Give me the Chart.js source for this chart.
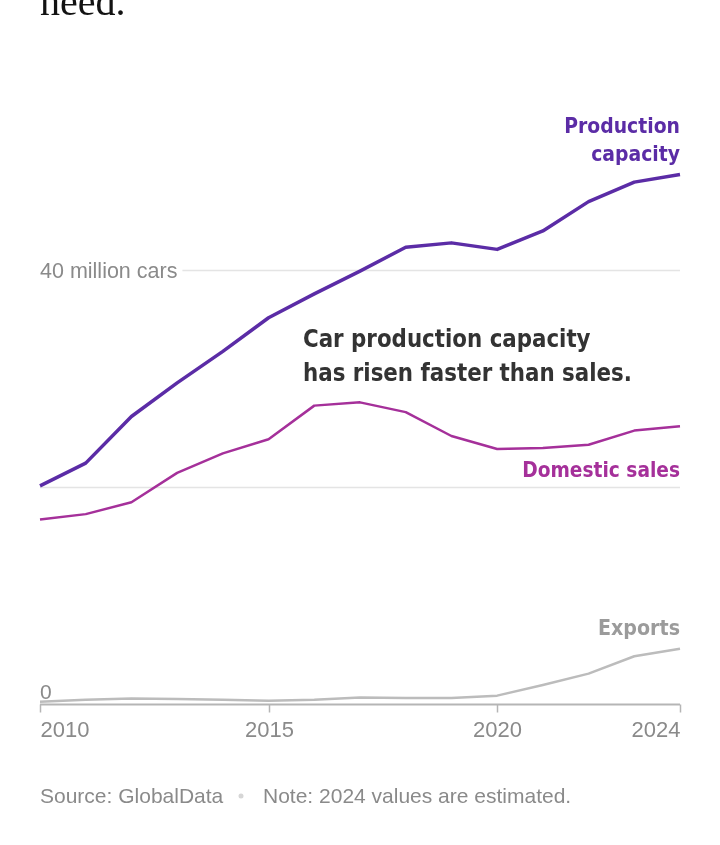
<!DOCTYPE html>
<html>
<head>
<meta charset="utf-8">
<script src="https://cdn.jsdelivr.net/npm/chart.js@4"></script>
<style>
  body { margin: 0; background: #fff; }
  #wrap { position: relative; width: 720px; height: 845px; }
</style>
</head>
<body>
<div id="wrap"><canvas id="carChart"></canvas></div>
<script>
// ---------------------------------------------------------------
// Data (million cars)

const years = [2010, 2011, 2012, 2013, 2014, 2015, 2016, 2017, 2018, 2019, 2020, 2021, 2022, 2023, 2024];
const productionCapacity = [20.1, 22.2, 26.5, 29.6, 32.5, 35.6, 37.8, 39.9, 42.1, 42.5, 41.9, 43.6, 46.3, 48.1, 48.8];
const domesticSales = [17.0, 17.5, 18.6, 21.3, 23.1, 24.4, 27.5, 27.8, 26.9, 24.7, 23.5, 23.6, 23.9, 25.2, 25.6];
const exportsSeries = [0.2, 0.4, 0.5, 0.45, 0.4, 0.3, 0.4, 0.6, 0.55, 0.55, 0.77, 1.75, 2.8, 4.4, 5.1];
const xTickYears = [2010, 2015, 2020, 2024];
const yGridValues = [0, 20, 40];
const yGridLabels = ['0', '', '40 million cars'];

// ---------------------------------------------------------------

const NARROW = '"Liberation Sans Narrow", "DejaVu Sans Condensed", "Arial Narrow", sans-serif';
const REGULAR = '"Liberation Sans", Arial, sans-serif';

function toPoints(values) {
    return years.map((y, i) => ({ x: y, y: values[i] }));
}

// bold condensed text, squeezed a little to match the narrow face
function narrowText(ctx, text, x, y, align, sx) {
    ctx.save();
    ctx.translate(x, y);
    ctx.scale(sx, 1);
    ctx.textAlign = align;
    ctx.fillText(text, 0, 0);
    ctx.restore();
}

// gridlines, baseline and axis labels drawn from the chart scales
const gridPlugin = {
    id: 'gridPlugin',
    beforeDatasetsDraw(chart) {
        const ctx = chart.ctx;
        const xs = chart.scales.x;
        const ys = chart.scales.y;
        const left = chart.chartArea.left;
        const right = chart.chartArea.right;
        ctx.save();
        ctx.font = '21px ' + REGULAR;
        ctx.textBaseline = 'alphabetic';
        ctx.textAlign = 'left';
        for (let i = 0; i < yGridValues.length; i++) {
            const py = Math.round(ys.getPixelForValue(yGridValues[i])) + 0.5;
            const label = yGridLabels[i];
            if (yGridValues[i] === 0) {
                // baseline
                ctx.strokeStyle = '#b5b5b5';
                ctx.lineWidth = 2;
                ctx.beginPath();
                ctx.moveTo(left, py);
                ctx.lineTo(right, py);
                ctx.stroke();
                ctx.fillStyle = '#8a8a8a';
                ctx.fillText(label, left, py - 6);
                // tick marks + year labels
                ctx.font = '22px ' + REGULAR;
                for (const yr of xTickYears) {
                    const px = Math.round(xs.getPixelForValue(yr)) + 0.5;
                    ctx.lineWidth = 1.5;
                    ctx.beginPath();
                    ctx.moveTo(px, py);
                    ctx.lineTo(px, py + 8);
                    ctx.stroke();
                    if (yr === xTickYears[0]) ctx.textAlign = 'left';
                    else if (yr === xTickYears[xTickYears.length - 1]) ctx.textAlign = 'right';
                    else ctx.textAlign = 'center';
                    ctx.fillText(String(yr), px, py + 32);
                }
                ctx.font = '21px ' + REGULAR;
                ctx.textAlign = 'left';
            } else {
                let start = left;
                if (label) {
                    ctx.fillStyle = '#8a8a8a';
                    ctx.font = '21.5px ' + REGULAR;
                    ctx.fillText(label, left, py + 7);
                    start = left + ctx.measureText(label).width + 5;
                }
                ctx.strokeStyle = '#e4e4e4';
                ctx.lineWidth = 1.5;
                ctx.beginPath();
                ctx.moveTo(start, py);
                ctx.lineTo(right, py);
                ctx.stroke();
            }
        }
        ctx.restore();
    },
    afterDraw(chart) {
        const ctx = chart.ctx;
        const right = chart.chartArea.right;
        ctx.save();
        ctx.textBaseline = 'alphabetic';

        // headline tail cut off at the top
        ctx.font = '40px "Liberation Serif", "Times New Roman", serif';
        ctx.fillStyle = '#121212';
        ctx.textAlign = 'left';
        ctx.fillText('need.', 40, 15);

        // series labels
        ctx.font = 'bold 22px ' + NARROW;
        ctx.fillStyle = '#5b2ca6';
        narrowText(ctx, 'Production', right, 133, 'right', 0.95);
        narrowText(ctx, 'capacity', right, 161, 'right', 0.95);
        ctx.fillStyle = '#a5309a';
        narrowText(ctx, 'Domestic sales', right, 477, 'right', 0.94);
        ctx.fillStyle = '#9b9b9b';
        narrowText(ctx, 'Exports', right, 635, 'right', 0.965);

        // annotation
        ctx.font = 'bold 25px ' + NARROW;
        ctx.fillStyle = '#333333';
        narrowText(ctx, 'Car production capacity', 303, 347, 'left', 0.95);
        narrowText(ctx, 'has risen faster than sales.', 303, 381, 'left', 0.95);

        // source line
        ctx.textAlign = 'left';
        ctx.font = '21px ' + REGULAR;
        ctx.fillStyle = '#8a8a8a';
        ctx.fillText('Source: GlobalData', 40, 803);
        ctx.fillStyle = '#d6d6d6';
        ctx.beginPath();
        ctx.arc(241, 796, 2.5, 0, Math.PI * 2);
        ctx.fill();
        ctx.fillStyle = '#8a8a8a';
        ctx.fillText('Note: 2024 values are estimated.', 263, 803);
        ctx.restore();
    }
};

const ctx = document.getElementById('carChart').getContext('2d');

const carChart = new Chart(ctx, {
    type: 'line',
    data: {
        datasets: [
            {
                label: 'Exports',
                data: toPoints(exportsSeries),
                borderColor: '#bcbcbc',
                borderWidth: 2.5
            },
            {
                label: 'Domestic sales',
                data: toPoints(domesticSales),
                borderColor: '#a5309a',
                borderWidth: 2.5
            },
            {
                label: 'Production capacity',
                data: toPoints(productionCapacity),
                borderColor: '#5b2ca6',
                borderWidth: 3.5
            }
        ]
    },
    options: {
        responsive: true,
        maintainAspectRatio: false,
        animation: false,
        devicePixelRatio: 1,
        layout: {
            padding: { left: 40, right: 40, top: 161.5, bottom: 141 }
        },
        elements: {
            point: { radius: 0 },
            line: { tension: 0, borderJoinStyle: 'round', borderCapStyle: 'butt', fill: false }
        },
        scales: {
            x: { type: 'linear', min: 2010, max: 2024, display: false },
            y: { min: 0, max: 50, display: false }
        },
        plugins: {
            legend: { display: false },
            tooltip: { enabled: false }
        },
        clip: false
    },
    plugins: [gridPlugin]
});
</script>
</body>
</html>
